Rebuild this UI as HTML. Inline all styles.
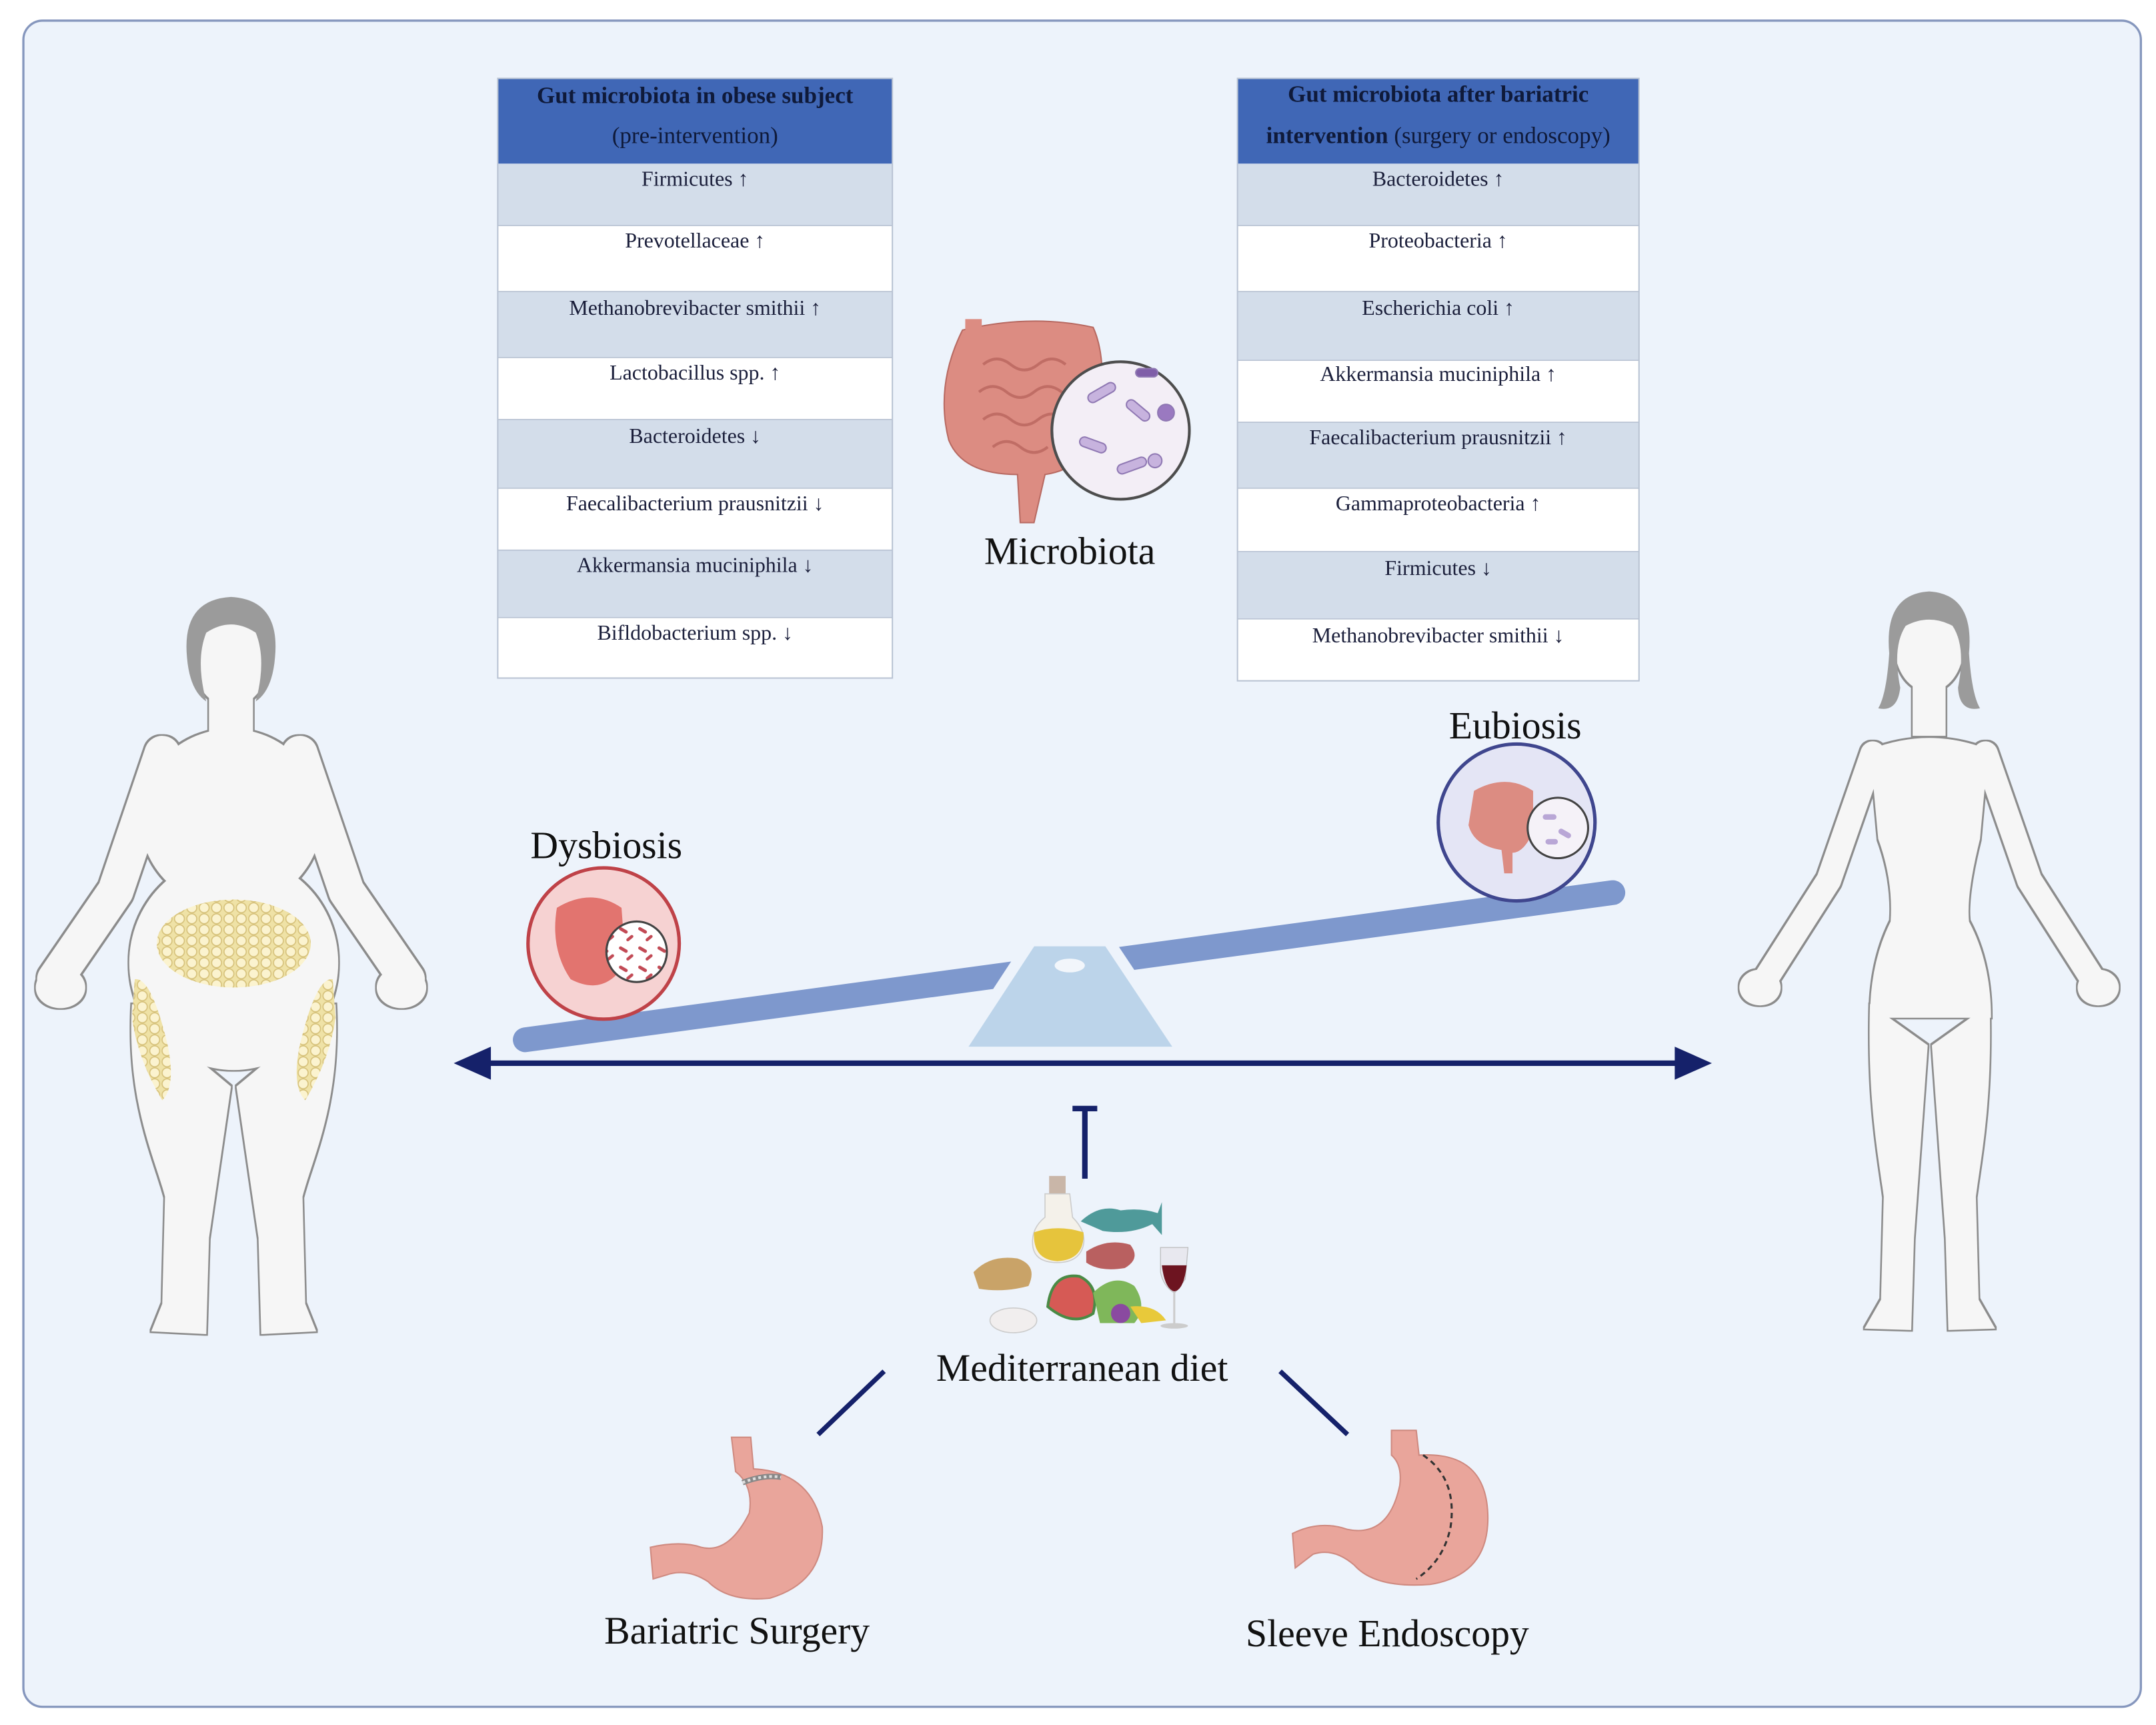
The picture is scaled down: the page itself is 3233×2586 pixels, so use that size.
<!DOCTYPE html>
<html><head><meta charset="utf-8">
<style>
html,body{margin:0;padding:0;background:#fff;}
svg{display:block;}
text{font-family:"Liberation Serif",serif;}
</style></head>
<body>
<svg width="3233" height="2586" viewBox="0 0 1568 1254.2" xmlns="http://www.w3.org/2000/svg">
<defs>
<filter id="dil" x="-10%" y="-10%" width="120%" height="120%">
 <feMorphology in="SourceAlpha" operator="dilate" radius="1.3" result="d"/>
 <feFlood flood-color="#8c8c8c"/>
 <feComposite in2="d" operator="in"/>
</filter>
<pattern id="fat" width="9" height="8" patternUnits="userSpaceOnUse">
 <rect width="9" height="8" fill="#efe2a6"/>
 <circle cx="4.5" cy="4" r="3.6" fill="#fbf3cf" stroke="#d6c17a" stroke-width="0.8"/>
</pattern>
<pattern id="bact" width="14" height="14" patternUnits="userSpaceOnUse">
 <rect width="14" height="14" fill="#fff"/>
 <rect x="2" y="3" width="7" height="2.4" rx="1.2" fill="#c24a55" transform="rotate(30 5 4)"/>
 <rect x="7" y="9" width="6" height="2.2" rx="1.1" fill="#c24a55" transform="rotate(-40 10 10)"/>
</pattern>
<g id="obese">
 <ellipse cx="168" cy="478" rx="28" ry="36"/>
 <rect x="152" y="500" width="32" height="40"/>
 <ellipse cx="168" cy="595" rx="66" ry="65"/>
 <ellipse cx="170" cy="700" rx="76" ry="78"/>
 <path d="M118,548 L84,648 L40,712" fill="none" stroke="#f6f6f6" stroke-width="26" stroke-linecap="round" stroke-linejoin="round"/>
 <path d="M218,548 L252,648 L296,712" fill="none" stroke="#f6f6f6" stroke-width="26" stroke-linecap="round" stroke-linejoin="round"/>
 <ellipse cx="44" cy="718" rx="18" ry="15"/>
 <ellipse cx="292" cy="718" rx="18" ry="15"/>
 <path d="M96,730 C92,800 112,840 120,870 L118,948 L110,968 L150,970 L152,900 L168,790 Z"/>
 <path d="M244,730 C248,800 228,840 220,870 L222,948 L230,968 L190,970 L188,900 L172,790 Z"/>
</g>
<g id="slim">
 <ellipse cx="1403" cy="470" rx="25" ry="33"/>
 <rect x="1391" y="490" width="24" height="45"/>
 <path d="M1360,545 Q1403,528 1446,545 L1440,610 Q1430,650 1432,670 Q1448,700 1448,740 L1360,740 Q1360,700 1375,670 Q1377,640 1366,610 Z"/>
 <path d="M1362,548 L1330,640 L1284,712" fill="none" stroke="#f6f6f6" stroke-width="18" stroke-linecap="round" stroke-linejoin="round"/>
 <path d="M1444,548 L1476,640 L1522,712" fill="none" stroke="#f6f6f6" stroke-width="18" stroke-linecap="round" stroke-linejoin="round"/>
 <ellipse cx="1280" cy="718" rx="15" ry="13"/>
 <ellipse cx="1526" cy="718" rx="15" ry="13"/>
 <path d="M1360,730 C1358,800 1366,840 1370,870 L1368,945 L1356,966 L1390,967 L1392,900 L1402,760 Z"/>
 <path d="M1447,730 C1449,800 1441,840 1437,870 L1439,945 L1451,966 L1417,967 L1415,900 L1405,760 Z"/>
</g>
</defs>

<rect x="0" y="0" width="1568" height="1254.2" fill="#fff"/>
<rect x="17" y="15" width="1540" height="1226" rx="14" fill="#edf3fb" stroke="#8596bd" stroke-width="1.6"/>

<!-- Left table -->
<g font-size="15.5" fill="#1b1f3b" text-anchor="middle">
 <rect x="362" y="57" width="287" height="62" fill="#4067b6"/>
 <text x="505.5" y="75" font-weight="bold" font-size="17" fill="#0f1a3a">Gut microbiota in obese subject</text>
 <text x="505.5" y="104" font-size="17" fill="#0f1a3a">(pre-intervention)</text>
 <rect x="362" y="119" width="287" height="45" fill="#d3ddea"/>
 <rect x="362" y="164" width="287" height="48" fill="#fff"/>
 <rect x="362" y="212" width="287" height="48" fill="#d3ddea"/>
 <rect x="362" y="260" width="287" height="45" fill="#fff"/>
 <rect x="362" y="305" width="287" height="50" fill="#d3ddea"/>
 <rect x="362" y="355" width="287" height="45" fill="#fff"/>
 <rect x="362" y="400" width="287" height="49" fill="#d3ddea"/>
 <rect x="362" y="449" width="287" height="44" fill="#fff"/>
 <rect x="362" y="57" width="287" height="436" fill="none" stroke="#b9c3d3" stroke-width="1"/>
 <g stroke="#b9c3d3" stroke-width="0.8"><line x1="362" y1="164" x2="649" y2="164"/><line x1="362" y1="212" x2="649" y2="212"/><line x1="362" y1="260" x2="649" y2="260"/><line x1="362" y1="305" x2="649" y2="305"/><line x1="362" y1="355" x2="649" y2="355"/><line x1="362" y1="400" x2="649" y2="400"/><line x1="362" y1="449" x2="649" y2="449"/></g>
 <text x="505.5" y="135">Firmicutes ↑</text>
 <text x="505.5" y="180">Prevotellaceae ↑</text>
 <text x="505.5" y="229">Methanobrevibacter smithii ↑</text>
 <text x="505.5" y="276">Lactobacillus spp. ↑</text>
 <text x="505.5" y="322">Bacteroidetes ↓</text>
 <text x="505.5" y="371">Faecalibacterium prausnitzii ↓</text>
 <text x="505.5" y="416">Akkermansia muciniphila ↓</text>
 <text x="505.5" y="465">Bifldobacterium spp. ↓</text>
</g>

<!-- Right table -->
<g font-size="15.5" fill="#1b1f3b" text-anchor="middle">
 <rect x="900" y="57" width="292" height="62" fill="#4067b6"/>
 <text x="1046" y="74" font-weight="bold" font-size="17" fill="#0f1a3a">Gut microbiota after bariatric</text>
 <text x="1046" y="104" font-size="17" fill="#0f1a3a"><tspan font-weight="bold">intervention</tspan> (surgery or endoscopy)</text>
 <rect x="900" y="119" width="292" height="45" fill="#d3ddea"/>
 <rect x="900" y="164" width="292" height="48" fill="#fff"/>
 <rect x="900" y="212" width="292" height="50" fill="#d3ddea"/>
 <rect x="900" y="262" width="292" height="45" fill="#fff"/>
 <rect x="900" y="307" width="292" height="48" fill="#d3ddea"/>
 <rect x="900" y="355" width="292" height="46" fill="#fff"/>
 <rect x="900" y="401" width="292" height="49" fill="#d3ddea"/>
 <rect x="900" y="450" width="292" height="45" fill="#fff"/>
 <rect x="900" y="57" width="292" height="438" fill="none" stroke="#b9c3d3" stroke-width="1"/>
 <g stroke="#b9c3d3" stroke-width="0.8"><line x1="900" y1="164" x2="1192" y2="164"/><line x1="900" y1="212" x2="1192" y2="212"/><line x1="900" y1="262" x2="1192" y2="262"/><line x1="900" y1="307" x2="1192" y2="307"/><line x1="900" y1="355" x2="1192" y2="355"/><line x1="900" y1="401" x2="1192" y2="401"/><line x1="900" y1="450" x2="1192" y2="450"/></g>
 <text x="1046" y="135">Bacteroidetes ↑</text>
 <text x="1046" y="180">Proteobacteria ↑</text>
 <text x="1046" y="229">Escherichia coli ↑</text>
 <text x="1046" y="277">Akkermansia muciniphila ↑</text>
 <text x="1046" y="323">Faecalibacterium prausnitzii ↑</text>
 <text x="1046" y="371">Gammaproteobacteria ↑</text>
 <text x="1046" y="418">Firmicutes ↓</text>
 <text x="1046" y="467">Methanobrevibacter smithii ↓</text>
</g>

<!-- Microbiota gut image -->
<g>
 <path d="M700,240 Q750,228 795,238 Q805,260 800,300 Q795,340 760,345 L752,380 L742,380 L740,345 Q700,345 690,320 Q680,280 700,240 Z" fill="#dc8c82" stroke="#b86a62" stroke-width="1"/>
 <g fill="none" stroke="#c06d65" stroke-width="2">
  <path d="M715,265 q10,-8 20,0 t20,0 t20,0"/><path d="M712,285 q10,-8 20,0 t20,0 t20,0 t15,0"/><path d="M715,305 q10,-8 20,0 t20,0 t20,0"/><path d="M722,325 q10,-8 20,0 t20,0"/>
 </g>
 <rect x="702" y="232" width="12" height="14" fill="#dc8c82"/>
 <circle cx="815" cy="313" r="50" fill="#f3eef6" stroke="#4d4d4d" stroke-width="2"/>
 <g fill="#c7b3de" stroke="#8f78b3" stroke-width="1">
  <rect x="790" y="282" width="22" height="7" rx="3.5" transform="rotate(-30 801 285)"/>
  <rect x="818" y="295" width="20" height="7" rx="3.5" transform="rotate(40 828 298)"/>
  <rect x="785" y="320" width="20" height="7" rx="3.5" transform="rotate(20 795 323)"/>
  <rect x="812" y="335" width="22" height="7" rx="3.5" transform="rotate(-20 823 338)"/>
  <circle cx="848" cy="300" r="6" fill="#9a79c0"/>
  <circle cx="840" cy="335" r="5"/>
  <rect x="826" y="268" width="16" height="6" rx="3" fill="#7f5ea8"/>
 </g>
</g>
<text x="778" y="410" font-size="28" text-anchor="middle" fill="#111">Microbiota</text>

<!-- Figures -->
<use href="#obese" filter="url(#dil)"/>
<g fill="#f6f6f6"><use href="#obese"/></g>
<path d="M136,478 Q132,436 168,434 Q204,436 200,478 Q198,502 186,510 Q194,480 186,460 Q168,448 150,460 Q142,480 150,510 Q138,502 136,478 Z" fill="#9b9b9b"/>
<ellipse cx="170" cy="686" rx="56" ry="32" fill="url(#fat)"/>
<path d="M98,712 Q110,710 122,760 Q128,790 118,800 Q100,770 96,740 Z" fill="url(#fat)"/>
<path d="M242,712 Q230,710 218,760 Q212,790 222,800 Q240,770 244,740 Z" fill="url(#fat)"/>

<use href="#slim" filter="url(#dil)"/>
<g fill="#f6f6f6"><use href="#slim"/></g>
<path d="M1374,475 Q1370,432 1403,430 Q1436,432 1432,475 Q1434,505 1440,515 Q1425,518 1424,500 Q1430,470 1420,455 Q1403,446 1386,455 Q1376,470 1382,500 Q1380,518 1366,515 Q1372,505 1374,475 Z" fill="#9b9b9b"/>

<!-- Seesaw -->
<line x1="382" y1="756" x2="1173" y2="649" stroke="#7e98cd" stroke-width="18" stroke-linecap="round"/>
<path d="M750,684 L806,684 L860,765 L697,765 Z" fill="#bcd4ea" stroke="#edf3fb" stroke-width="8" stroke-linejoin="round"/>
<ellipse cx="778" cy="702" rx="11" ry="5" fill="#f2f6fb"/>

<!-- Dysbiosis -->
<circle cx="439" cy="686" r="55" fill="#f6d2d2" stroke="#bf4248" stroke-width="2.5"/>
<path d="M405,660 Q430,645 452,660 L455,700 Q440,725 415,712 Q400,690 405,660 Z" fill="#e2746f"/>
<circle cx="463" cy="692" r="22" fill="url(#bact)" stroke="#444" stroke-width="1.5"/>
<text x="441" y="624" font-size="28" text-anchor="middle" fill="#111">Dysbiosis</text>

<!-- Eubiosis -->
<circle cx="1103" cy="598" r="57" fill="#e4e5f5" stroke="#3f468e" stroke-width="2.5"/>
<path d="M1072,575 Q1095,562 1115,575 L1115,605 Q1108,620 1100,620 L1100,635 L1094,635 L1092,618 Q1072,615 1068,600 Z" fill="#dc8c82"/>
<circle cx="1133" cy="602" r="22" fill="#f5f2f8" stroke="#444" stroke-width="1.5"/>
<g fill="#b9a7d6"><rect x="1122" y="592" width="10" height="4" rx="2"/><rect x="1133" y="604" width="10" height="4" rx="2" transform="rotate(30 1138 606)"/><rect x="1124" y="610" width="9" height="4" rx="2"/></g>
<text x="1102" y="537" font-size="28" text-anchor="middle" fill="#111">Eubiosis</text>

<!-- Arrow -->
<line x1="350" y1="773" x2="1226" y2="773" stroke="#15216a" stroke-width="4"/>
<polygon points="330,773 357,761 357,785" fill="#15216a"/>
<polygon points="1245,773 1218,761 1218,785" fill="#15216a"/>

<!-- Inhibitor -->
<line x1="789" y1="805" x2="789" y2="857" stroke="#15216a" stroke-width="4"/>
<line x1="780" y1="806" x2="798" y2="806" stroke="#15216a" stroke-width="4"/>

<!-- Food -->
<g>
 <rect x="763" y="855" width="12" height="14" fill="#c9b6a8"/>
 <path d="M760,868 L778,868 L780,885 Q790,895 788,905 Q785,918 769,918 Q752,918 751,905 Q750,893 760,885 Z" fill="#f4f1ea" stroke="#ccc" stroke-width="0.8"/>
 <path d="M752,896 Q769,890 788,896 Q789,916 769,917 Q751,916 752,896 Z" fill="#e6c43c"/>
 <path d="M786,888 Q800,875 815,880 Q830,878 842,882 L845,874 L845,898 L838,890 Q822,898 802,895 Z" fill="#4f9a9a"/>
 <path d="M790,910 Q805,900 822,905 Q830,915 818,922 Q800,925 790,918 Z" fill="#b96060"/>
 <path d="M708,925 Q720,912 740,915 Q755,920 748,935 Q730,940 712,937 Z" fill="#c9a368"/>
 <path d="M762,950 Q765,925 785,928 Q800,935 795,955 Q780,965 762,950 Z" fill="#d65a55" stroke="#4a8a45" stroke-width="2"/>
 <path d="M795,940 Q810,925 825,935 Q835,950 825,962 L800,962 Z" fill="#7fb75a"/>
 <circle cx="815" cy="955" r="7" fill="#8a4aa0"/>
 <path d="M822,950 Q840,948 848,960 L830,962 Z" fill="#e8c93a"/>
 <ellipse cx="737" cy="960" rx="17" ry="9" fill="#f1eeee" stroke="#ccc" stroke-width="0.8"/>
 <path d="M844,907 L864,907 L862,930 Q855,940 854,940 Q846,935 844,925 Z" fill="#e8e8ef" stroke="#bbb" stroke-width="0.6"/>
 <path d="M845,920 L863,920 Q861,938 854,939 Q847,937 845,920 Z" fill="#6d1420"/>
 <line x1="854" y1="940" x2="854" y2="963" stroke="#ccc" stroke-width="1.5"/>
 <ellipse cx="854" cy="964" rx="10" ry="2" fill="#ccc"/>
</g>
<text x="787" y="1004" font-size="28" text-anchor="middle" fill="#111">Mediterranean diet</text>

<!-- connector lines -->
<line x1="595" y1="1043" x2="643" y2="997" stroke="#15216a" stroke-width="3.5"/>
<line x1="931" y1="997" x2="980" y2="1043" stroke="#15216a" stroke-width="3.5"/>

<!-- Stomachs -->
<g>
 <path d="M532,1045 L546,1045 L548,1068 Q590,1070 598,1110 Q600,1150 560,1162 Q530,1165 515,1150 Q500,1140 485,1145 L475,1148 L473,1125 Q495,1120 510,1125 Q530,1130 545,1100 Q548,1080 535,1070 Z" fill="#e9a59b" stroke="#cf8a80" stroke-width="1"/>
 <path d="M540,1078 Q555,1072 568,1074" fill="none" stroke="#888" stroke-width="4"/>
 <path d="M540,1078 Q555,1072 568,1074" fill="none" stroke="#ddd" stroke-width="2" stroke-dasharray="2,2"/>
 <path d="M1012,1040 L1030,1040 L1032,1058 Q1080,1055 1082,1100 Q1084,1145 1040,1152 Q1000,1155 985,1138 Q970,1125 955,1130 L942,1140 L940,1115 Q960,1105 980,1112 Q1010,1118 1018,1080 Q1020,1065 1012,1058 Z" fill="#e9a59b" stroke="#cf8a80" stroke-width="1"/>
 <path d="M1035,1058 Q1060,1075 1055,1110 Q1050,1135 1030,1148" fill="none" stroke="#333" stroke-width="1.5" stroke-dasharray="4,3"/>
</g>
<text x="536" y="1195" font-size="28" text-anchor="middle" fill="#111">Bariatric  Surgery</text>
<text x="1009" y="1197" font-size="28" text-anchor="middle" fill="#111">Sleeve Endoscopy</text>
</svg>
</body></html>
